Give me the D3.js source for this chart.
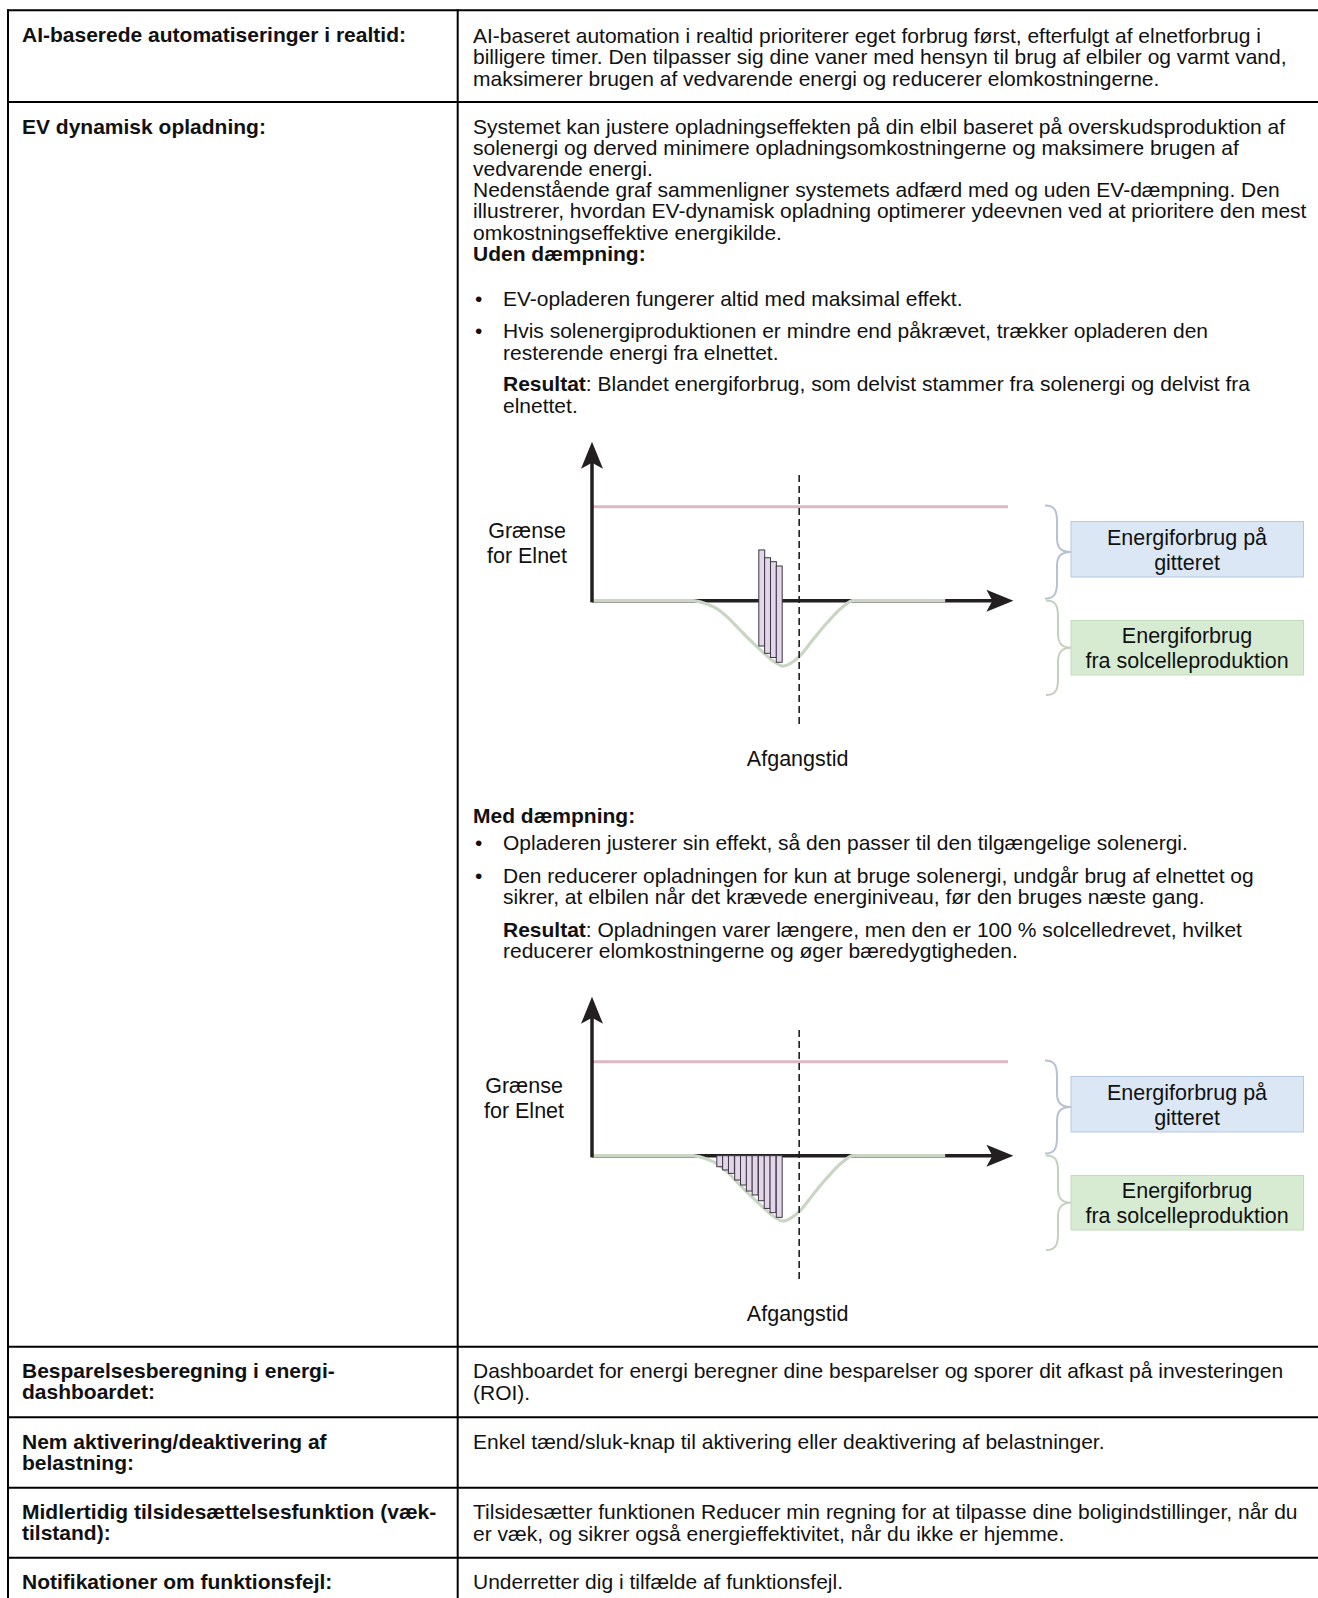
<!DOCTYPE html>
<html><head><meta charset="utf-8">
<script src="https://cdn.jsdelivr.net/npm/d3@7"></script>
<style>body{margin:0;background:#fff}svg{display:block}</style>
</head><body>
<svg id="c" width="1318" height="1598"></svg>
<script>
// ---------- data ----------
const solarTime  = [0, 24.3, 27.2, 30, 32.4, 34.8, 37.2, 40.4, 43.5, 45.9, 49.8, 53.1, 56.5, 60.3, 62.7, 84.9];
const solarPower = [0, 0, -0.3, -0.85, -1.7, -2.75, -3.85, -5.2, -6.4, -6.95, -5.95, -4.15, -2.35, -0.65, 0, 0];
const gridLimit = 10;
const departureTime = 49.8;
const noDampStart  = [40.1, 41.5, 42.9, 44.3];
const noDampTop    = [5.4, 4.57, 4.15, 3.69];
const noDampBottom = [-4.82, -5.6, -6.04, -6.55];
const dampStart  = [30.0, 31.4, 32.8, 34.3, 35.7, 37.1, 38.5, 40.0, 41.4, 42.8, 44.3];
const dampTop    = [0, 0, 0, 0, 0, 0, 0, 0, 0, 0, 0];
const dampBottom = [-1.17, -1.52, -1.88, -2.59, -3.12, -3.76, -4.18, -4.79, -5.61, -6.06, -6.56];
const barWidth = 1.42;
const yAxisTop = 16.9, dashTop = 13.37, dashBottom = -13.4, xAxisEnd = 101.3;
const labelLimit = ["Grænse", "for Elnet"];
const labelGrid = ["Energiforbrug på", "gitteret"];
const labelSolar = ["Energiforbrug", "fra solcelleproduktion"];
const labelDeparture = "Afgangstid";

const rowTitles = [
  ["AI-baserede automatiseringer i realtid:"],
  ["EV dynamisk opladning:"],
  ["Besparelsesberegning i energi-", "dashboardet:"],
  ["Nem aktivering/deaktivering af", "belastning:"],
  ["Midlertidig tilsidesættelsesfunktion (væk-", "tilstand):"],
  ["Notifikationer om funktionsfejl:"]
];
const row1Text = [
  "AI-baseret automation i realtid prioriterer eget forbrug først, efterfulgt af elnetforbrug i",
  "billigere timer. Den tilpasser sig dine vaner med hensyn til brug af elbiler og varmt vand,",
  "maksimerer brugen af vedvarende energi og reducerer elomkostningerne."
];
const row2Intro = [
  "Systemet kan justere opladningseffekten på din elbil baseret på overskudsproduktion af",
  "solenergi og derved minimere opladningsomkostningerne og maksimere brugen af",
  "vedvarende energi.",
  "Nedenstående graf sammenligner systemets adfærd med og uden EV-dæmpning. Den",
  "illustrerer, hvordan EV-dynamisk opladning optimerer ydeevnen ved at prioritere den mest",
  "omkostningseffektive energikilde."
];
const lowerRowsText = [
  ["Dashboardet for energi beregner dine besparelser og sporer dit afkast på investeringen", "(ROI)."],
  ["Enkel tænd/sluk-knap til aktivering eller deaktivering af belastninger."],
  ["Tilsidesætter funktionen Reducer min regning for at tilpasse dine boligindstillinger, når du", "er væk, og sikrer også energieffektivitet, når du ikke er hjemme."],
  ["Underretter dig i tilfælde af funktionsfejl."]
];

// ---------- drawing ----------
const svg = d3.select("#c");
const FONT = "'Liberation Sans', Arial, sans-serif";
const FS = 21, SX = 1.0, LH = 21.2;
const INK = "#111";

function txt(parent, x, y, parts, o = {}) {
  const t = parent.append("text")
    .attr("transform", `translate(${x},${y}) scale(${o.sx || SX},1)`)
    .attr("font-family", FONT).attr("font-size", o.fs || FS)
    .attr("fill", INK).attr("text-anchor", o.anchor || "start");
  (Array.isArray(parts) ? parts : [[parts, !!o.bold]]).forEach(p => {
    t.append("tspan").attr("font-weight", p[1] ? "bold" : "normal").text(p[0]);
  });
  return t;
}

// table grid
const tableTop = 10.2, colX = 457.7, leftX = 8;
const rowLines = [tableTop, 102, 1346.7, 1417.3, 1487.7, 1557.7];
const grid = svg.append("g").attr("stroke", "#000").attr("stroke-width", 2);
rowLines.forEach(y => grid.append("line").attr("x1", leftX - 1).attr("x2", 1318).attr("y1", y).attr("y2", y));
[leftX, colX].forEach(x => grid.append("line").attr("x1", x).attr("x2", x).attr("y1", tableTop - 1).attr("y2", 1598));

// left column titles
const LX = 22, RX = 473, BX = 475, BTX = 503, D = 0.6;
rowTitles.forEach((lines, i) => {
  const top = rowLines[i];
  lines.forEach((l, j) => txt(svg, LX, top + 31.5 + j * LH, l, {bold: true}));
});

// row 1 text
row1Text.forEach((l, j) => txt(svg, RX, 42.2 + D + j * 21.4, l));
// row 2 intro
row2Intro.forEach((l, j) => txt(svg, RX, 132.9 + D + j * LH, l));
txt(svg, RX, 132.9 + D + 6 * LH, "Uden dæmpning:", {bold: true});
function bullet(y, lines) {
  txt(svg, BX, y + D, "•");
  lines.forEach((l, j) => txt(svg, BTX, y + D + j * 21.4, l));
}
bullet(305.2, ["EV-opladeren fungerer altid med maksimal effekt."]);
bullet(337.8, ["Hvis solenergiproduktionen er mindre end påkrævet, trækker opladeren den", "resterende energi fra elnettet."]);
txt(svg, BTX, 390.8 + D, [["Resultat", true], [": Blandet energiforbrug, som delvist stammer fra solenergi og delvist fra", false]]);
txt(svg, BTX, 412.2 + D, "elnettet.");

txt(svg, RX, 821.9 + D, "Med dæmpning:", {bold: true});
bullet(849.4, ["Opladeren justerer sin effekt, så den passer til den tilgængelige solenergi."]);
bullet(882.1, ["Den reducerer opladningen for kun at bruge solenergi, undgår brug af elnettet og", "sikrer, at elbilen når det krævede energiniveau, før den bruges næste gang."]);
txt(svg, BTX, 936.1 + D, [["Resultat", true], [": Opladningen varer længere, men den er 100 % solcelledrevet, hvilket", false]]);
txt(svg, BTX, 957.5 + D, "reducerer elomkostningerne og øger bæredygtigheden.");

// lower rows text
lowerRowsText.forEach((lines, i) => {
  const top = rowLines[i + 2];
  lines.forEach((l, j) => txt(svg, RX, top + 31.5 + j * 21.4, l));
});

// diagrams
const x = d3.scaleLinear().domain([0, 100]).range([592, 1008]);
const y = d3.scaleLinear().domain([0, gridLimit]).range([600.7, 506.7]);

function brace(g, x0, y0, y1, tipX, color) {
  const ym = (y0 + y1) / 2, x1 = x0 + 12;
  const p = d3.path();
  p.moveTo(x0, y0);
  p.bezierCurveTo(x0 + 9, y0, x1, y0 + 4, x1, y0 + 16);
  p.lineTo(x1, ym - 14);
  p.bezierCurveTo(x1, ym - 4, x1 + 4, ym, tipX, ym);
  p.bezierCurveTo(x1 + 4, ym, x1, ym + 4, x1, ym + 14);
  p.lineTo(x1, y1 - 16);
  p.bezierCurveTo(x1, y1 - 4, x0 + 9, y1, x0, y1);
  g.append("path").attr("d", p.toString()).attr("fill", "none").attr("stroke", color).attr("stroke-width", 2);
}

function drawDiagram(dy, starts, tops, bottoms, labelX) {
  const g = svg.append("g").attr("transform", `translate(0,${dy})`);
  const y0 = y(0);
  // x axis
  g.append("line").attr("x1", x(0)).attr("x2", x(xAxisEnd) - 18).attr("y1", y0).attr("y2", y0)
    .attr("stroke", "#231f20").attr("stroke-width", 3.5);
  // solar curve
  const pts = solarTime.map((t, i) => [t, solarPower[i]]);
  g.append("path").datum(pts)
    .attr("d", d3.line().x(d => x(d[0])).y(d => y(d[1])).curve(d3.curveMonotoneX))
    .attr("fill", "none").attr("stroke", "#c9d6c3").attr("stroke-width", 3.2);
  // grid limit
  g.append("line").attr("x1", x(0)).attr("x2", x(100)).attr("y1", y(gridLimit)).attr("y2", y(gridLimit))
    .attr("stroke", "#dcb8c4").attr("stroke-width", 3);
  // y axis
  g.append("line").attr("x1", x(0)).attr("x2", x(0)).attr("y1", y0 + 1.7).attr("y2", y(yAxisTop) + 18)
    .attr("stroke", "#231f20").attr("stroke-width", 3.5);
  const ax = x(0), ay = y(yAxisTop);
  g.append("path").attr("d", `M${ax},${ay}L${ax + 11},${ay + 27}L${ax},${ay + 21}L${ax - 11},${ay + 27}Z`).attr("fill", "#231f20");
  const bx = x(xAxisEnd);
  g.append("path").attr("d", `M${bx},${y0}L${bx - 27},${y0 - 11}L${bx - 21},${y0}L${bx - 27},${y0 + 11}Z`).attr("fill", "#231f20");
  // bars
  g.selectAll("rect.bar").data(starts).join("rect").attr("class", "bar")
    .attr("x", d => x(d)).attr("width", x(barWidth) - x(0))
    .attr("y", (d, i) => y(tops[i])).attr("height", (d, i) => y(bottoms[i]) - y(tops[i]))
    .attr("fill", "#e3d6eb").attr("stroke", "#3b3640").attr("stroke-width", 1);
  // departure
  g.append("line").attr("x1", x(departureTime)).attr("x2", x(departureTime))
    .attr("y1", y(dashTop)).attr("y2", y(dashBottom))
    .attr("stroke", "#1e1e1e").attr("stroke-width", 1.6).attr("stroke-dasharray", "7,4");
  const dfs = {fs: 21.5, sx: 1.0, anchor: "middle"};
  txt(g, x(departureTime) - 1.5, 765.7, labelDeparture, dfs);
  labelLimit.forEach((l, j) => txt(g, labelX, 538 + j * 25.2, l, dfs));
  // legend
  brace(g, 1045, 505.5, 598.5, 1071, "#b6c1d5");
  brace(g, 1046, 600.5, 695, 1071, "#c4d0be");
  g.append("rect").attr("x", 1071).attr("y", 521.5).attr("width", 232.5).attr("height", 55.5)
    .attr("fill", "#dbe7f5").attr("stroke", "#b5c9e3").attr("stroke-width", 1);
  g.append("rect").attr("x", 1071).attr("y", 620.5).attr("width", 232.5).attr("height", 54.5)
    .attr("fill", "#d7ebd3").attr("stroke", "#c2dcbb").attr("stroke-width", 1);
  labelGrid.forEach((l, j) => txt(g, 1187, 545.2 + j * 25.2, l, dfs));
  labelSolar.forEach((l, j) => txt(g, 1187, 643.2 + j * 25.2, l, dfs));
}
drawDiagram(0, noDampStart, noDampTop, noDampBottom, 527);
drawDiagram(555, dampStart, dampTop, dampBottom, 524);
</script>
</body></html>
